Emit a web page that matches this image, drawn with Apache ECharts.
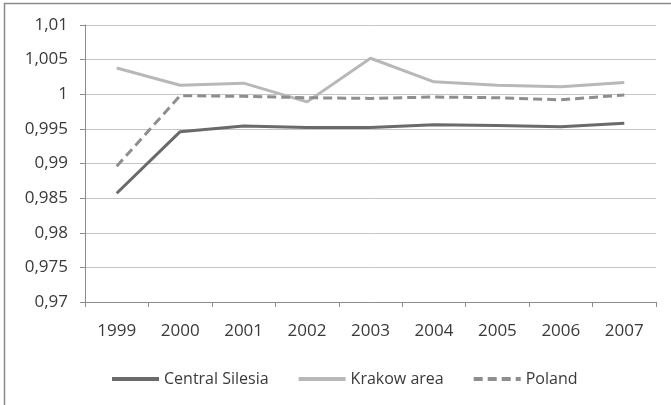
<!DOCTYPE html>
<html>
<head>
<meta charset="utf-8">
<script src="https://cdn.jsdelivr.net/npm/echarts@6/dist/echarts.min.js"></script>
<style>
  html, body { margin: 0; padding: 0; background: #fff; }
  #chart { width: 671px; height: 405px; }
</style>
</head>
<body>
<div id="chart"></div>
<script>
// Years on the category axis
const years = ['1999', '2000', '2001', '2002', '2003', '2004', '2005', '2006', '2007'];

// Index values per region
const centralSilesia = [0.9857, 0.9946, 0.9954, 0.9952, 0.9952, 0.9956, 0.9955, 0.9953, 0.9958];
const krakowArea     = [1.0038, 1.0013, 1.0016, 0.9989, 1.0052, 1.0018, 1.0013, 1.0011, 1.0017];
const poland         = [0.9896, 0.9998, 0.9997, 0.9995, 0.9994, 0.9996, 0.9995, 0.9992, 0.9999];

// Value axis range
const yMin = 0.970;
const yMax = 1.010;
const yStep = 0.005;

const fontFamily = '"Open Sans", sans-serif';
const textColor = '#3a3a3a';

const chart = echarts.init(document.getElementById('chart'), null, { renderer: 'canvas' });

function commaDecimal(v) {
  const r = Math.round(v * 1000) / 1000;
  return String(r).replace('.', ',');
}

chart.setOption({
  animation: false,
  backgroundColor: '#ffffff',
  graphic: [{
    type: 'rect',
    shape: { x: 4.5, y: 3.5, width: 720, height: 430 },
    style: { fill: 'none', stroke: '#8a8a8a', lineWidth: 1.5 },
    silent: true
  }],
  grid: { left: 85, right: 15, top: 25, bottom: 103, containLabel: false },
  xAxis: {
    type: 'category',
    data: years,
    boundaryGap: true,
    axisLine: { show: true, lineStyle: { color: '#8c8c8c', width: 1 } },
    axisTick: { show: true, length: 5, alignWithLabel: false, lineStyle: { color: '#8c8c8c' } },
    axisLabel: { color: textColor, fontFamily, fontSize: 17, margin: 21 },
    splitLine: { show: false }
  },
  yAxis: {
    type: 'value',
    min: yMin,
    max: yMax,
    interval: yStep,
    axisLine: { show: true, lineStyle: { color: '#8c8c8c', width: 1 } },
    axisTick: { show: true, length: 5, lineStyle: { color: '#8c8c8c' } },
    axisLabel: { color: textColor, fontFamily, fontSize: 17, margin: 17, formatter: commaDecimal },
    splitLine: { show: true, lineStyle: { color: '#c4c4c4', width: 1 } }
  },
  legend: {
    top: 371,
    left: 110,
    padding: 0,
    itemWidth: 47,
    itemHeight: 12,
    itemGap: 28,
    itemStyle: { opacity: 0 },
    lineStyle: { width: 4 },
    textStyle: { color: textColor, fontFamily, fontSize: 16 },
    data: ['Central Silesia', 'Krakow area', 'Poland']
  },
  series: [
    {
      name: 'Central Silesia',
      type: 'line',
      data: centralSilesia,
      symbol: 'none',
      lineStyle: { color: '#6a6a6a', width: 3 },
      itemStyle: { color: '#6a6a6a' }
    },
    {
      name: 'Krakow area',
      type: 'line',
      data: krakowArea,
      symbol: 'none',
      lineStyle: { color: '#b8b8b8', width: 3 },
      itemStyle: { color: '#b8b8b8' }
    },
    {
      name: 'Poland',
      type: 'line',
      data: poland,
      symbol: 'none',
      lineStyle: { color: '#8e8e8e', width: 3, type: [9, 5] },
      itemStyle: { color: '#8e8e8e' }
    }
  ]
});
</script>
</body>
</html>
